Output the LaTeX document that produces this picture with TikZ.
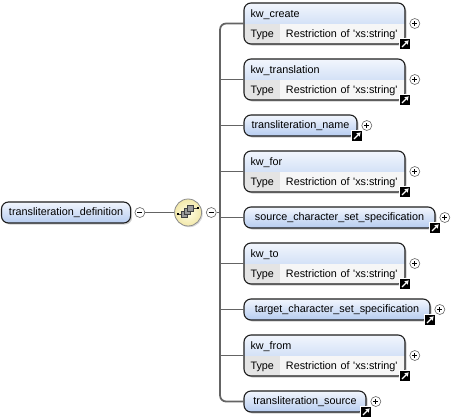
\documentclass[tikz,border=0pt]{standalone}
\usepackage{fontspec}
\setmainfont{Liberation Sans}
\usetikzlibrary{positioning, shadows, arrows.meta}
\definecolor{hdtop}{RGB}{242,246,253}
\definecolor{hdbot}{RGB}{182,204,240}
\definecolor{typefill}{RGB}{228,228,228}
\definecolor{valfill}{RGB}{246,246,246}
\definecolor{boxline}{RGB}{30,30,30}
\definecolor{linkcol}{RGB}{100,100,100}
\definecolor{seqin}{RGB}{255,253,228}
\definecolor{seqout}{RGB}{242,232,170}
\newcommand{\xsrestr}{\mbox{\makebox[35.5pt][l]{Type}Restriction of \textquotesingle xs:string\textquotesingle}}
\tikzset{elem/.style={rectangle,draw=boxline,line width=1.1pt,rounded corners=7pt,top color=hdtop,bottom color=hdbot,minimum height=21pt,inner xsep=7.5pt,outer sep=0pt,text height=8pt,text depth=2pt,drop shadow={shadow xshift=1.5pt,shadow yshift=-1.5pt,opacity=.4}},
         typed/.style={rectangle,draw=boxline,line width=1.1pt,rounded corners=7pt,fill=valfill,minimum height=41pt,text width=148pt,inner xsep=6.5pt,outer sep=0pt,align=left,text height=8pt,text depth=20.5pt,font=\fontsize{10.8}{20.5}\selectfont,drop shadow={shadow xshift=1.5pt,shadow yshift=-1.5pt,opacity=.4},
           path picture={\shade[sharp corners,top color=hdtop,bottom color=hdbot] (path picture bounding box.north west) rectangle ([yshift=-20.5pt]path picture bounding box.north east);
                         \fill[sharp corners,typefill] ([yshift=-20.5pt]path picture bounding box.north west) rectangle ([xshift=36pt]path picture bounding box.south west);}},
         seqc/.style={circle,draw=black!45,line width=.8pt,inner color=seqin,outer color=seqout,minimum size=27pt,inner sep=0pt,drop shadow={shadow xshift=1.2pt,shadow yshift=-1.2pt,opacity=.3}},
         plusc/.style={circle,draw=black!60,fill=white,line width=.6pt,minimum size=10pt,inner sep=0pt,
           path picture={\draw[black,line width=.7pt] ([xshift=-2.6pt]path picture bounding box.center) -- ([xshift=2.6pt]path picture bounding box.center) ([yshift=-2.6pt]path picture bounding box.center) -- ([yshift=2.6pt]path picture bounding box.center);}},
         minusc/.style={circle,draw=black!60,fill=white,line width=.6pt,minimum size=10pt,inner sep=0pt,
           path picture={\draw[black,line width=.7pt] ([xshift=-2.6pt]path picture bounding box.center) -- ([xshift=2.6pt]path picture bounding box.center);}},
         refmark/.style={rectangle,fill=black,draw=white,line width=.6pt,minimum size=10.5pt,inner sep=0pt,sharp corners,
           path picture={\draw[white,line width=1.1pt,-{Triangle[length=3.6pt,width=4.4pt]}] ([shift={(2.3pt,2.3pt)}]path picture bounding box.south west) -- ([shift={(-1.6pt,-1.6pt)}]path picture bounding box.north east);}},
         seqbox/.style={draw=black!75,fill=black!40,line width=.5pt},
         link/.style={draw=linkcol,line width=1.8pt}}
\begin{document}
\begin{tikzpicture}[x=1pt,y=-1pt,font=\fontsize{10.8}{13}\selectfont]
    \useasboundingbox (0,0) rectangle (468,418);
    % root and compositor
    \node (root) [elem, anchor=west] at (1.5,212.5) {transliteration\_definition};
    \node (rootm) [minusc, right=4pt of root] {};
    \node (seq) [seqc, right=29pt of rootm] {};
    \node (seqm) [minusc, right=4pt of seq] {};
    \coordinate[right=3.5pt of seqm] (bus);
    \draw[seqbox] ([shift={(-10pt,-1.5pt)}]seq.center) -- ([shift={(-6.5pt,-1.5pt)}]seq.center);
    \draw[seqbox] ([shift={(5.5pt,4.5pt)}]seq.center) -- ([shift={(9pt,4.5pt)}]seq.center);
    \fill[black] ([shift={(-11pt,-2.5pt)}]seq.center) rectangle ([shift={(-9pt,-0.5pt)}]seq.center);
    \fill[black] ([shift={(8.5pt,3.5pt)}]seq.center) rectangle ([shift={(10.5pt,5.5pt)}]seq.center);
    \draw[seqbox] ([shift={(-6.5pt,-4.5pt)}]seq.center) rectangle ([shift={(-0.5pt,1.5pt)}]seq.center);
    \draw[seqbox] ([shift={(-3.5pt,-1.5pt)}]seq.center) rectangle ([shift={(2.5pt,4.5pt)}]seq.center);
    \draw[seqbox] ([shift={(-0.5pt,1.5pt)}]seq.center) rectangle ([shift={(5.5pt,7.5pt)}]seq.center);
    % children
    \node (kwc) [typed, anchor=west] at (244,23.5) {kw\_create\\\xsrestr};
    \node (kwt) [typed, below=15pt of kwc.south west, anchor=north west] {kw\_translation\\\xsrestr};
    \node (tnm) [elem, minimum width=113pt, below=15pt of kwt.south west, anchor=north west] {transliteration\_name};
    \node (kwf) [typed, below=15pt of tnm.south west, anchor=north west] {kw\_for\\\xsrestr};
    \node (src) [elem, minimum width=191pt, below=15pt of kwf.south west, anchor=north west] {source\_character\_set\_specification};
    \node (kwto) [typed, below=15pt of src.south west, anchor=north west] {kw\_to\\\xsrestr};
    \node (tgt) [elem, minimum width=186pt, below=15pt of kwto.south west, anchor=north west] {target\_character\_set\_specification};
    \node (kwfr) [typed, below=15pt of tgt.south west, anchor=north west] {kw\_from\\\xsrestr};
    \node (tsrc) [elem, minimum width=122pt, below=15pt of kwfr.south west, anchor=north west] {transliteration\_source};
    % expand buttons
    \node (kwcp) [plusc, right=4.5pt of kwc] {};
    \node (kwtp) [plusc, right=4.5pt of kwt] {};
    \node (tnmp) [plusc, right=4.5pt of tnm] {};
    \node (kwfp) [plusc, right=4.5pt of kwf] {};
    \node (srcp) [plusc, right=4.5pt of src] {};
    \node (kwtop) [plusc, right=4.5pt of kwto] {};
    \node (tgtp) [plusc, right=4.5pt of tgt] {};
    \node (kwfrp) [plusc, right=4.5pt of kwfr] {};
    \node (tsrcp) [plusc, right=4.5pt of tsrc] {};
    % reference marks
    \node (kwcr) [refmark] at (kwc.south east) {};
    \node (kwtr) [refmark] at (kwt.south east) {};
    \node (tnmr) [refmark] at (tnm.south east) {};
    \node (kwfr-r) [refmark] at (kwf.south east) {};
    \node (srcr) [refmark] at (src.south east) {};
    \node (kwtor) [refmark] at (kwto.south east) {};
    \node (tgtr) [refmark] at (tgt.south east) {};
    \node (kwfrr) [refmark] at (kwfr.south east) {};
    \node (tsrcr) [refmark] at (tsrc.south east) {};
    % connectors
    \draw[link] (rootm) -- (seq);
    \draw[link] (seqm) -- (bus);
    \draw[link, rounded corners=6pt] (bus) |- (kwc);
    \draw[link] (bus) |- (kwt);
    \draw[link] (bus) |- (tnm);
    \draw[link] (bus) |- (kwf);
    \draw[link] (bus) |- (src);
    \draw[link] (bus) |- (kwto);
    \draw[link] (bus) |- (tgt);
    \draw[link] (bus) |- (kwfr);
    \draw[link, rounded corners=6pt] (bus) |- (tsrc);
  \end{tikzpicture}
\end{document}
